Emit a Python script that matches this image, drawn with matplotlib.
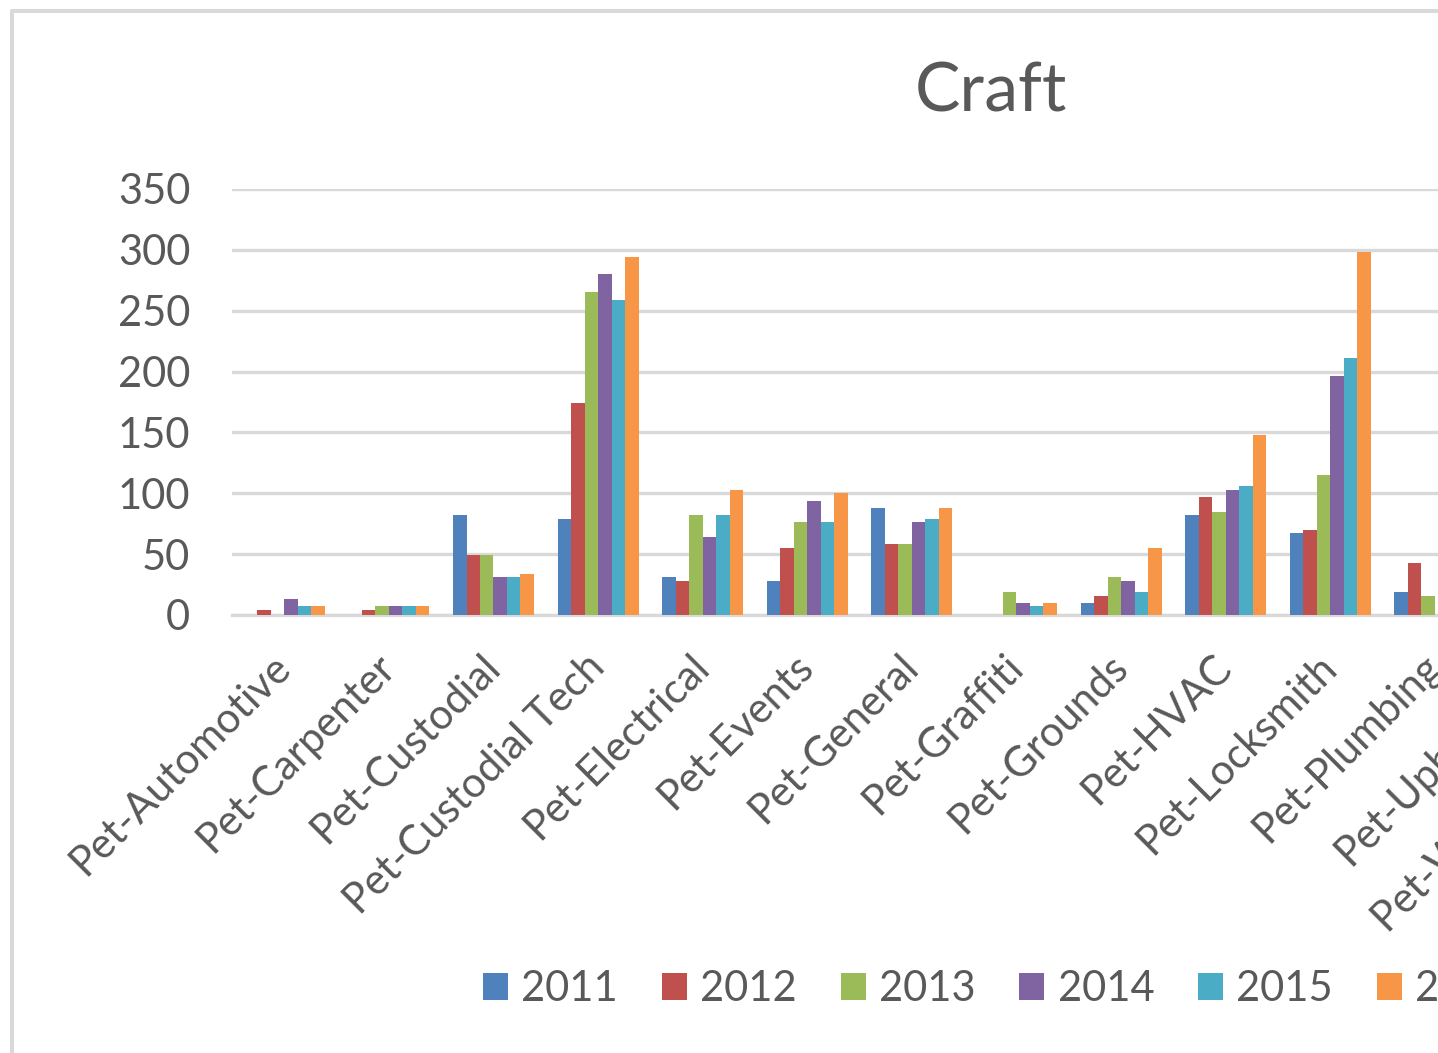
import numpy as np
import matplotlib
matplotlib.use("Agg")
import matplotlib.pyplot as plt
from matplotlib.lines import Line2D
from matplotlib.patches import Patch

categories = ["Pet-Automotive", "Pet-Carpenter", "Pet-Custodial", "Pet-Custodial Tech",
              "Pet-Electrical", "Pet-Events", "Pet-General", "Pet-Graffiti", "Pet-Grounds",
              "Pet-HVAC", "Pet-Locksmith", "Pet-Plumbing", "Pet-Upholstery",
              "Pet-Warehouse Ops"]
nan = np.nan
v2011 = [0, 0, 82, 79, 31, 28, 88, 0, 10, 82, 67, 19, nan, nan]
v2012 = [4, 4, 49, 174, 28, 55, 58, 0, 16, 97, 70, 43, nan, nan]
v2013 = [0, 7, 49, 265, 82, 76, 58, 19, 31, 85, 115, 16, nan, nan]
v2014 = [13, 7, 31, 280, 64, 94, 76, 10, 28, 103, 196, nan, nan, nan]
v2015 = [7, 7, 31, 259, 82, 76, 79, 7, 19, 106, 211, nan, nan, nan]
v2016 = [7, 7, 34, 294, 103, 100, 88, 10, 55, 148, 298, nan, nan, nan]
series_names = ["2011", "2012", "2013", "2014", "2015", "2016"]
series = [v2011, v2012, v2013, v2014, v2015, v2016]
colors = ["#4F81BD", "#C0504D", "#9BBB59", "#8064A2", "#4BACC6", "#F79646"]
yticks = [0, 50, 100, 150, 200, 250, 300, 350]

plt.rcParams['font.family'] = ['Lato', 'DejaVu Sans']
TXT = "#595959"
GRID = "#D9D9D9"

W, H = 1438, 1053
fig = plt.figure(figsize=(W / 100, H / 100), dpi=100)

# plot area in pixel coordinates
n = len(categories)
cat_px = 104.6
left_px, top_px, bottom_px = 232, 189, 615
ax = fig.add_axes([left_px / W, 1 - bottom_px / H, n * cat_px / W, (bottom_px - top_px) / H])

bw = 0.129
x = np.arange(n)
for i, (vals, c) in enumerate(zip(series, colors)):
    ax.bar(x + (i - 2.5) * bw, vals, width=bw, color=c, zorder=3, linewidth=0)

ax.set_xlim(-0.5, n - 0.5)
ax.set_ylim(0, 350)
ax.set_yticks(yticks)
ax.set_yticklabels([str(t) for t in yticks], fontsize=30, color=TXT)
ax.yaxis.grid(True, color=GRID, linewidth=2.4, zorder=0)
ax.set_axisbelow(True)
for s in ["top", "right", "left"]:
    ax.spines[s].set_visible(False)
ax.spines["bottom"].set_color(GRID)
ax.spines["bottom"].set_linewidth(2.4)
ax.tick_params(axis="y", length=0, pad=30)
ax.tick_params(axis="x", length=0, pad=33)
ax.set_xticks(x)
ax.set_xticklabels(categories, rotation=45, ha="right", va="center",
                   rotation_mode="anchor", fontsize=30, color=TXT)

fig.text(991 / W, 1 - 93 / H, "Craft", ha="center", va="center", fontsize=49, color=TXT)

handles = [Patch(facecolor=c, edgecolor="none") for c in colors]
fig.legend(handles, series_names, loc="center left", ncol=6,
           bbox_to_anchor=(483 / W, 1 - 989 / H), frameon=False, fontsize=30,
           labelcolor=TXT, handlelength=0.6, handleheight=0.6,
           handletextpad=0.32, columnspacing=1.05, borderpad=0, borderaxespad=0)

# chart border (left and top visible)
fig.add_artist(Line2D([12 / W, 12 / W, 1.01], [-0.01, 1 - 11 / H, 1 - 11 / H],
                      transform=fig.transFigure, color=GRID, linewidth=2.9))

fig.savefig("out.png", dpi=100)
